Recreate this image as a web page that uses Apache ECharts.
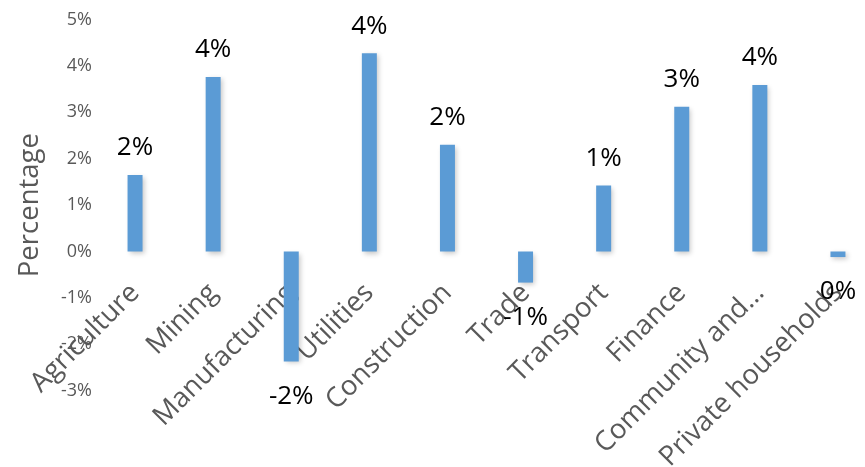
<!DOCTYPE html>
<html>
<head>
<meta charset="utf-8">
<script src="https://cdn.jsdelivr.net/npm/echarts@6/dist/echarts.min.js"></script>
<style>
html,body{margin:0;padding:0;background:#fff;}
#chart{width:865px;height:467px;}
</style>
</head>
<body>
<div id="chart"></div>
<script>
const categories = ["Agriculture","Mining","Manufacturing","Utilities","Construction","Trade","Transport","Finance","Community and…","Private households"];
const values = [1.65, 3.76, -2.37, 4.27, 2.30, -0.67, 1.42, 3.12, 3.59, -0.12];
const yTicks = {min: -3, max: 5, interval: 1};

const FONT = '"Open Sans", sans-serif';
const GRID_H = 371.2;
// x axis sits on the zero line: shift it up by the share of the y-range below zero
const zeroOffset = -GRID_H * (0 - yTicks.min) / (yTicks.max - yTicks.min);

const chart = echarts.init(document.getElementById('chart'));

const data = values.map(v => ({
  value: v,
  label: {
    position: v >= 0 ? 'top' : 'bottom',
    distance: v >= 0 ? 14 : 22
  }
}));

chart.setOption({
  animation: false,
  grid: {left: 96, top: 19.5, width: 781, height: GRID_H, containLabel: false, outerBoundsMode: 'none'},
  xAxis: {
    type: 'category',
    data: categories,
    offset: zeroOffset,
    axisLine: {show: false, onZero: false},
    axisTick: {show: false},
    splitLine: {show: false},
    axisLabel: {
      interval: 0,
      rotate: 45,
      margin: 37,
      padding: [8, 0, 0, 0],
      fontSize: 27.5,
      color: '#595959',
      fontFamily: FONT
    }
  },
  yAxis: {
    type: 'value',
    min: yTicks.min,
    max: yTicks.max,
    interval: yTicks.interval,
    name: 'Percentage',
    nameLocation: 'middle',
    nameRotate: 90,
    nameGap: 52,
    nameTextStyle: {fontSize: 27.5, color: '#595959', fontFamily: FONT},
    axisLine: {show: false},
    axisTick: {show: false},
    splitLine: {show: false},
    axisLabel: {
      formatter: '{value}%',
      margin: 4,
      fontSize: 18,
      color: '#595959',
      fontFamily: FONT
    }
  },
  series: [{
    type: 'bar',
    data: data,
    barWidth: 15,
    itemStyle: {
      color: '#5B9BD5',
      shadowBlur: 5,
      shadowColor: 'rgba(0,0,0,0.22)',
      shadowOffsetX: 2,
      shadowOffsetY: 2
    },
    label: {
      show: true,
      fontSize: 26,
      color: '#000',
      fontFamily: FONT,
      formatter: p => Math.round(p.value) + '%'
    }
  }]
});
</script>
</body>
</html>
